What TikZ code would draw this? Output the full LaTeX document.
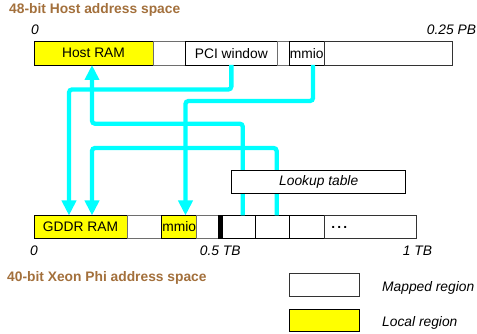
\documentclass[tikz,border=0pt]{standalone}
\usepackage{fontspec}
\setmainfont{Liberation Sans}
\usetikzlibrary{arrows.meta}
\definecolor{titlebrown}{RGB}{163,112,60}
\definecolor{linecyan}{RGB}{0,255,255}
\definecolor{boxyellow}{RGB}{255,255,0}
\definecolor{gapgray}{RGB}{110,110,110}
\newcommand\fsz{\fontsize{13.8}{16}\selectfont}
\begin{document}
\begin{tikzpicture}[x=1pt,y=-1pt,
  every node/.style={font=\fsz},
  cell/.style={draw=black, line width=0.8pt, inner sep=0pt, outer sep=0pt, anchor=north west},
  topcell/.style={cell, minimum height=23.5pt},
  botcell/.style={cell, minimum height=23pt},
  gapcell/.style={draw=gapgray},
  lbl/.style={anchor=base, inner sep=0pt, font=\fsz\itshape},
  ttl/.style={anchor=base west, inner sep=0pt, font=\fsz\bfseries, text=titlebrown},
  conn/.style={draw=linecyan, line width=4.3pt, rounded corners=3pt, -{Triangle[width=14pt,length=15pt]}}
]
\useasboundingbox (0,0) rectangle (477,334);

% titles
\node[ttl] (t1) at (9,14) {48-bit Host address space};
\node[ttl] (t2) at (7,281) {40-bit Xeon Phi address space};

% host address space
\node[topcell, fill=boxyellow, minimum width=119pt] (hram) at (34,41.5) {Host RAM};
\node[topcell, gapcell, minimum width=32pt] (tgap1) at (153,41.5) {};
\node[topcell, minimum width=92.7pt] (pci) at (185,41.5) {PCI window};
\node[topcell, gapcell, minimum width=11.6pt] (tgap2) at (277.7,41.5) {};
\node[topcell, minimum width=34.7pt] (hmmio) at (289.3,41.5) {mmio};
\node[topcell, draw=black!80, minimum width=128pt] (trest) at (324,41.5) {};
\node[lbl] (l00) at (35,35) {0};
\node[lbl] (l01) at (451.5,35) {0.25 PB};

% xeon phi address space
\node[botcell, fill=boxyellow, minimum width=93pt] (gddr) at (34,215.5) {GDDR RAM};
\node[botcell, gapcell, minimum width=34.7pt] (bgap1) at (127,215.5) {};
\node[botcell, fill=boxyellow, minimum width=35pt] (pmmio) at (161.7,215.5) {mmio};
\node[botcell, gapcell, minimum width=21.3pt] (bgap2) at (196.7,215.5) {};
\node[botcell, fill=black, minimum width=4.3pt] (mark) at (218,215.5) {};
\node[botcell, minimum width=33pt] (c1) at (222.3,215.5) {};
\node[botcell, minimum width=34pt] (c2) at (255.3,215.5) {};
\node[botcell, minimum width=35pt] (c3) at (289.3,215.5) {};
\node[botcell, draw=black!80, minimum width=92.4pt] (c4) at (324.3,215.5) {};
\node[anchor=base, inner sep=0pt, font=\fsz\bfseries] (dots) at (339.2,228.7) {.\kern2.2pt.\kern2.2pt.};
\node[lbl] (l10) at (34,255) {0};
\node[lbl] (l11) at (220.3,255) {0.5 TB};
\node[lbl] (l12) at (417.5,255) {1 TB};

% connectors
\coordinate (a1) at (69,89.5);
\draw[conn] (pci.south) |- (a1) -- (a1 |- gddr.north);
\coordinate (b1) at (92,123.7);
\draw[conn] ([xshift=4pt]c1.north) |- (b1) -- (b1 |- hram.south);
\coordinate (cc1) at (92,148);
\draw[conn] ([xshift=4.35pt]c2.north) |- (cc1) -- (cc1 |- gddr.north);
\coordinate (d1) at (185.5,101);
\draw[conn] ([xshift=6.35pt]hmmio.south) |- (d1) -- (d1 |- pmmio.north);

% lookup table
\node[cell, fill=white, minimum width=174pt, minimum height=23.3pt, font=\fsz\itshape] (lut) at (231.7,170) {Lookup table};

% legend
\node[cell, draw=black!80, minimum width=70pt, minimum height=23.7pt] (legm) at (289,273) {};
\node[cell, fill=boxyellow, minimum width=70pt, minimum height=22pt] (legl) at (289,309) {};
\node[anchor=base west, inner sep=0pt, font=\fsz\itshape] (legmt) at (382,291) {Mapped region};
\node[anchor=base west, inner sep=0pt, font=\fsz\itshape] (leglt) at (382,326) {Local region};
\end{tikzpicture}
\end{document}
